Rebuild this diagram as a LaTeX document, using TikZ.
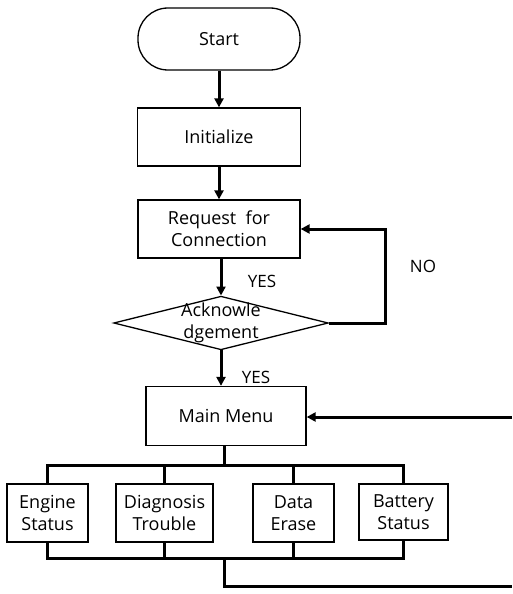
\documentclass[tikz,border=0pt]{standalone}
\usepackage{fontspec}
\setmainfont{Open Sans}
\usepackage{tikz}
\usetikzlibrary{shapes.geometric,arrows.meta}

\begin{document}
\begin{tikzpicture}[x=1pt,y=-1pt,
		box/.style={draw, line width=1.3pt, align=center, inner sep=0pt, font=\fontsize{18}{22}\selectfont},
		flow/.style={line width=3pt, -{Triangle[length=9pt,width=9pt]}},
		bus/.style={line width=3pt, line join=miter},
		lbl/.style={font=\fontsize{17}{20}\selectfont}]
		\useasboundingbox (0,0) rectangle (512,594);
		\node[box, rounded corners=30pt, minimum width=162pt, minimum height=62pt] at (219,39) (start){Start};
		\node[box, minimum width=163pt, minimum height=58pt] at (219,137) (init){Initialize};
		\node[box, minimum width=162pt, minimum height=58pt] at (219,229) (req){Request\ \ for\\Connection};
		\node[box, shape=diamond, aspect=4, inner sep=-2.5pt] at (221,323) (ack){Acknowle\\dgement};
		\node[box, minimum width=160pt, minimum height=59pt] at (226,416) (menu){Main Menu};
		\node[box, minimum width=81pt, minimum height=58pt] at (47.5,513) (engine){Engine\\Status};
		\node[box, minimum width=97pt, minimum height=58pt] at (164.5,513) (diag){Diagnosis\\Trouble};
		\node[box, minimum width=81pt, minimum height=58pt] at (293.5,513) (data){Data\\Erase};
		\node[box, minimum width=89pt, minimum height=56pt] at (403.5,512) (batt){Battery\\Status};
		\node[lbl] at (262,281) (yes1){YES};
		\node[lbl] at (423,266) (no){NO};
		\node[lbl] at (256,377) (yes2){YES};
		\coordinate (topbus) at (224,465);
		\coordinate (botbus) at (224,558);
		\coordinate (exitR) at (512,586);
		\coordinate (entryR) at (512,417);
		\draw[flow] (start.south) -- (init.north);
		\draw[flow] (init.south) -- (req.north);
		\draw[flow] (req.south -| ack.north) -- (ack.north);
		\draw[flow] (ack.east) -- ++(57,0) |- (req.east);
		\draw[flow] (ack.south) -- (ack.south |- menu.north);
		\draw[bus] (menu.south -| topbus) -- (topbus);
		\draw[bus] (engine.north) |- (topbus) -| (batt.north);
		\draw[bus] (diag.north) -- (diag.north |- topbus);
		\draw[bus] (data.north) -- (data.north |- topbus);
		\draw[bus] (engine.south) |- (botbus) -| (batt.south);
		\draw[bus] (diag.south) -- (diag.south |- botbus);
		\draw[bus] (data.south) -- (data.south |- botbus);
		\draw[bus] (botbus) |- (exitR);
		\draw[flow] (entryR) -- (menu.east |- entryR);

	\end{tikzpicture}
\end{document}
